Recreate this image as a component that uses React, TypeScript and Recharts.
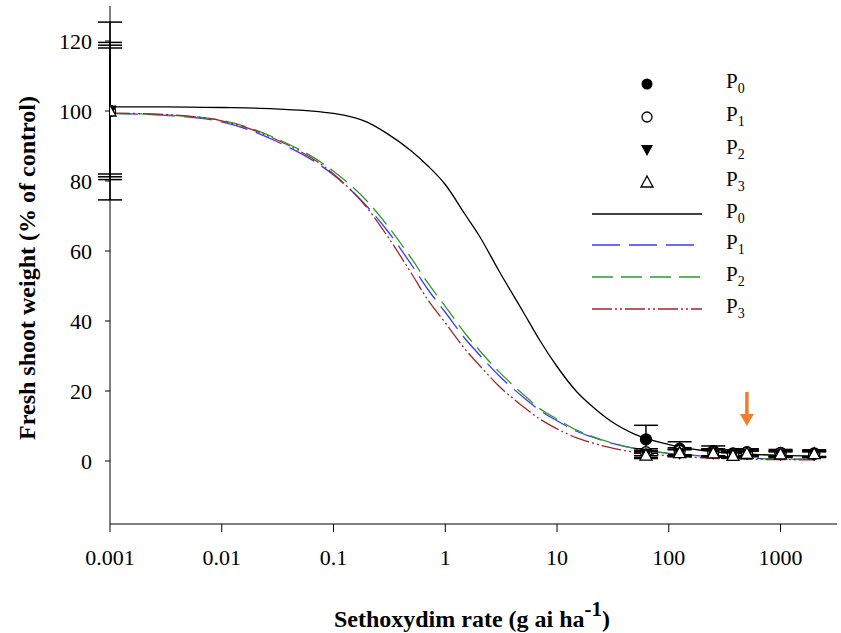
import React from 'react';
import { ComposedChart, Line, Scatter, XAxis, YAxis, ErrorBar, ReferenceDot } from 'recharts';

// fitted curves
const curveDose = [0.001, 0.003, 0.01, 0.03, 0.1, 0.2, 0.3, 0.5, 0.7, 1, 1.5, 2, 3, 5, 7, 10, 15, 20, 30, 50, 100, 200, 500, 1000, 2000];
const curveP0 = [101.2, 101.2, 101.0, 100.6, 99.3, 96.8, 93.6, 88.5, 84.3, 79, 70.5, 64.5, 54.5, 42.5, 34.5, 27, 19.8, 16, 11.5, 7.6, 4.7, 3.0, 2.0, 1.6, 1.4];
const curveP1 = [99.3, 98.8, 96.9, 91.5, 81.7, 72.7, 66, 56, 49, 42.5, 35, 30.5, 24.5, 18.2, 14.5, 11.5, 8.5, 7.0, 5.2, 3.6, 2.2, 1.4, 0.8, 0.6, 0.5];
const curveP2 = [99.3, 98.9, 97.3, 92.3, 82.8, 74.2, 67.5, 57.8, 50.8, 44.2, 36.5, 31.8, 25.6, 19, 15, 12, 8.8, 7.2, 5.3, 3.6, 2.2, 1.4, 0.8, 0.6, 0.5];
const curveP3 = [99.4, 99.0, 97.2, 92.0, 82.0, 72.3, 64.5, 53.5, 46, 39.5, 32, 27.5, 21.5, 15.5, 12, 9.2, 6.6, 5.3, 3.8, 2.5, 1.5, 0.9, 0.5, 0.4, 0.3];

// observed means (% of control) and their errors
const obsDose = [0.001, 62.5, 125, 250, 375, 500, 1000, 2000];
const obsP0 = [100, 6.2, 3.5, 2.8, 2.2, 2.5, 2.3, 2.2];
const errP0 = [25.4, 4, 2, 1.5, 1, 1, 1, 1];
const obsP1 = [100, 2.5, 2.8, 2.5, 2.0, 2.4, 2.2, 2.0];
const errP1 = [19.6, 1, 1, 1, 0.8, 0.8, 0.8, 0.8];
const obsP2 = [100, 2.0, 2.2, 2.2, 1.8, 2.0, 1.8, 1.8];
const errP2 = [18.8, 1, 1, 1, 0.8, 0.8, 0.8, 0.8];
const obsP3 = [100, 1.7, 2.4, 2.3, 1.6, 2.2, 2.0, 2.1];
const errP3 = [18, 1, 1, 1, 0.8, 0.8, 0.8, 0.8];

const xTicks = [0.001, 0.01, 0.1, 1, 10, 100, 1000];
const yTicks = [0, 20, 40, 60, 80, 100, 120];
const groups = ['0', '1', '2', '3'];

const curve = (vals: number[]) => curveDose.map((x, i) => ({ x, y: vals[i] }));
const obs = (vals: number[], errs: number[]) => obsDose.map((x, i) => ({ x, y: vals[i], err: errs[i] }));

const FONT = 'Liberation Serif';

const Dot = (fill: string) => (p: any) => (
  <circle cx={p.cx} cy={p.cy} r={5.5} fill={fill} stroke="#000" strokeWidth={1.3} />
);
const TriDown = (p: any) => (
  <path d={`M${p.cx - 6},${p.cy - 5} L${p.cx + 6},${p.cy - 5} L${p.cx},${p.cy + 6} Z`} fill="#000" stroke="#000" />
);
const TriUp = (p: any) => (
  <path d={`M${p.cx - 6},${p.cy + 5} L${p.cx + 6},${p.cy + 5} L${p.cx},${p.cy - 6} Z`} fill="#fff" stroke="#000" strokeWidth={1.3} />
);

const Arrow = (p: any) => (
  <g>
    <line x1={p.cx} y1={p.cy - 34} x2={p.cx} y2={p.cy - 10} stroke="#ee7d2f" strokeWidth={3.5} />
    <path d={`M${p.cx - 7},${p.cy - 12} L${p.cx + 7},${p.cy - 12} L${p.cx},${p.cy} Z`} fill="#ee7d2f" />
  </g>
);

const lineStyles = [
  { stroke: '#000', dash: undefined },
  { stroke: '#3a3aff', dash: '28 9' },
  { stroke: '#2e9a2e', dash: '21 8' },
  { stroke: '#a3262a', dash: '20 3 2 3 2 3' },
];

const markers = [
  <svg width={14} height={14}><circle cx={7} cy={7} r={5.5} fill="#000" /></svg>,
  <svg width={14} height={14}><circle cx={7} cy={7} r={5} fill="#fff" stroke="#000" strokeWidth={1.3} /></svg>,
  <svg width={14} height={14}><path d="M1,2 L13,2 L7,13 Z" fill="#000" /></svg>,
  <svg width={14} height={14}><path d="M1,12 L13,12 L7,1 Z" fill="#fff" stroke="#000" strokeWidth={1.3} /></svg>,
];

const Label = ({ g }: { g: string }) => (
  <span style={{ fontFamily: FONT, fontSize: 21 }}>
    P<sub style={{ fontSize: 14 }}>{g}</sub>
  </span>
);

export default function App() {
  const rows = [84, 117, 150, 182, 214, 245, 277, 309];
  return (
    <div style={{ position: 'absolute', left: 0, top: 0, width: 841, height: 633, background: '#fff' }}>
      <ComposedChart width={841} height={633} margin={{ top: 6, right: 4, left: 50, bottom: 0 }}>
        <XAxis
          dataKey="x"
          type="number"
          scale="log"
          domain={[0.001, 3200]}
          allowDataOverflow
          ticks={xTicks}
          tickFormatter={(v: number) => String(v)}
          height={109}
          tickSize={8}
          tickMargin={17}
          stroke="#000"
          tick={{ fill: '#000', fontFamily: FONT, fontSize: 22 }}
        />
        <XAxis xAxisId="t" orientation="top" dataKey="x" type="number" scale="log" domain={[0.001, 3200]} allowDataOverflow height={0} tick={false} tickLine={false} stroke="#000" />
        <YAxis
          type="number"
          domain={[-18, 130]}
          allowDataOverflow
          ticks={yTicks}
          width={60}
          tickSize={5}
          tickMargin={13}
          stroke="#000"
          tick={{ fill: '#000', fontFamily: FONT, fontSize: 22 }}
        />
        <YAxis yAxisId="r" orientation="right" domain={[-18, 130]} width={0} tick={false} tickLine={false} stroke="#000" />

        {[curveP0, curveP1, curveP2, curveP3].map((c, i) => (
          <Line
            key={'c' + i}
            data={curve(c)}
            dataKey="y"
            type="monotone"
            stroke={lineStyles[i].stroke}
            strokeDasharray={lineStyles[i].dash}
            strokeWidth={1.3}
            dot={false}
            isAnimationActive={false}
          />
        ))}

        <Scatter data={obs(obsP0, errP0)} dataKey="y" shape={Dot('#000')} isAnimationActive={false}>
          <ErrorBar dataKey="err" direction="y" width={12} stroke="#000" strokeWidth={1.5} />
        </Scatter>
        <Scatter data={obs(obsP1, errP1)} dataKey="y" shape={Dot('#fff')} isAnimationActive={false}>
          <ErrorBar dataKey="err" direction="y" width={12} stroke="#000" strokeWidth={1.5} />
        </Scatter>
        <Scatter data={obs(obsP2, errP2)} dataKey="y" shape={TriDown} isAnimationActive={false}>
          <ErrorBar dataKey="err" direction="y" width={12} stroke="#000" strokeWidth={1.5} />
        </Scatter>
        <Scatter data={obs(obsP3, errP3)} dataKey="y" shape={TriUp} isAnimationActive={false}>
          <ErrorBar dataKey="err" direction="y" width={12} stroke="#000" strokeWidth={1.5} />
        </Scatter>

        <ReferenceDot x={500} y={10} r={0} shape={Arrow} />

        <text x={27} y={268} transform="rotate(-90 27 268)" textAnchor="middle" dominantBaseline="central" fontFamily={FONT} fontSize={24} fontWeight="bold" fill="#000">
          Fresh shoot weight (% of control)
        </text>
        <text x={472} y={627} textAnchor="middle" fontFamily={FONT} fontSize={24} fontWeight="bold" fill="#000">
          Sethoxydim rate (g ai ha<tspan dy={-11} fontSize={21}>-1</tspan><tspan dy={11}>)</tspan>
        </text>
      </ComposedChart>

      {groups.map((g, i) => (
        <div key={'m' + g} style={{ position: 'absolute', left: 640, top: rows[i] - 7, width: 14, height: 14, lineHeight: 0 }}>
          {markers[i]}
        </div>
      ))}
      {groups.map((g, i) => (
        <svg key={'l' + g} style={{ position: 'absolute', left: 592, top: rows[i + 4] - 2 }} width={112} height={4}>
          <line x1={0} y1={2} x2={110} y2={2} stroke={lineStyles[i].stroke} strokeDasharray={lineStyles[i].dash} strokeWidth={1.3} />
        </svg>
      ))}
      {[...groups, ...groups].map((g, i) => (
        <div key={'t' + i} style={{ position: 'absolute', left: 726, top: rows[i] - 15, lineHeight: '24px' }}>
          <Label g={g} />
        </div>
      ))}
    </div>
  );
}
